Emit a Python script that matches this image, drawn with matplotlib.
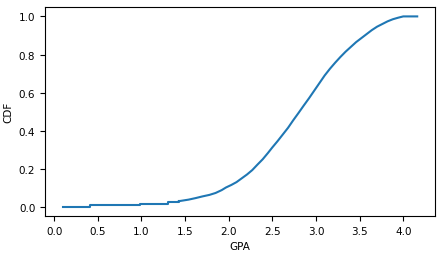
import matplotlib
matplotlib.use("Agg")
import matplotlib.pyplot as plt

gpa = [0.10, 0.41, 0.99, 1.30, 1.43, 1.54, 1.62, 1.70, 1.78, 1.85, 1.92, 1.97,
       2.03, 2.09, 2.15, 2.21, 2.27, 2.33, 2.39, 2.45, 2.50, 2.56, 2.62, 2.68,
       2.74, 2.80, 2.86, 2.92, 2.98, 3.04, 3.10, 3.16, 3.22, 3.28, 3.34, 3.40,
       3.46, 3.52, 3.58, 3.64, 3.70, 3.76, 3.82, 3.88, 3.94, 4.00, 4.16]
cdf = [0.002, 0.008, 0.016, 0.024, 0.030, 0.038, 0.046, 0.055, 0.063, 0.073, 0.088, 0.102,
       0.115, 0.130, 0.150, 0.170, 0.193, 0.222, 0.250, 0.283, 0.312, 0.345, 0.380, 0.415,
       0.455, 0.493, 0.532, 0.570, 0.610, 0.650, 0.690, 0.725, 0.757, 0.787, 0.815, 0.840,
       0.865, 0.886, 0.907, 0.928, 0.946, 0.960, 0.974, 0.985, 0.993, 1.000, 1.000]

fig = plt.figure(figsize=(4.42, 2.55), dpi=100)
ax = fig.add_axes([0.102, 0.149, 0.882, 0.82])
# early sparse part as steps, dense part as a smooth line
n_step = 4
ax.plot(gpa[:n_step + 1], cdf[:n_step + 1], drawstyle="steps-post",
        color="#1f77b4", linewidth=1.5)
ax.plot(gpa[n_step:], cdf[n_step:], color="#1f77b4", linewidth=1.5)
ax.set_xlabel("GPA", fontsize=7.5)
ax.set_ylabel("CDF", fontsize=7.5)
ax.tick_params(labelsize=7.5)
ax.set_xticks([0.0, 0.5, 1.0, 1.5, 2.0, 2.5, 3.0, 3.5, 4.0])
ax.set_yticks([0.0, 0.2, 0.4, 0.6, 0.8, 1.0])
fig.savefig("out.png", dpi=100)
